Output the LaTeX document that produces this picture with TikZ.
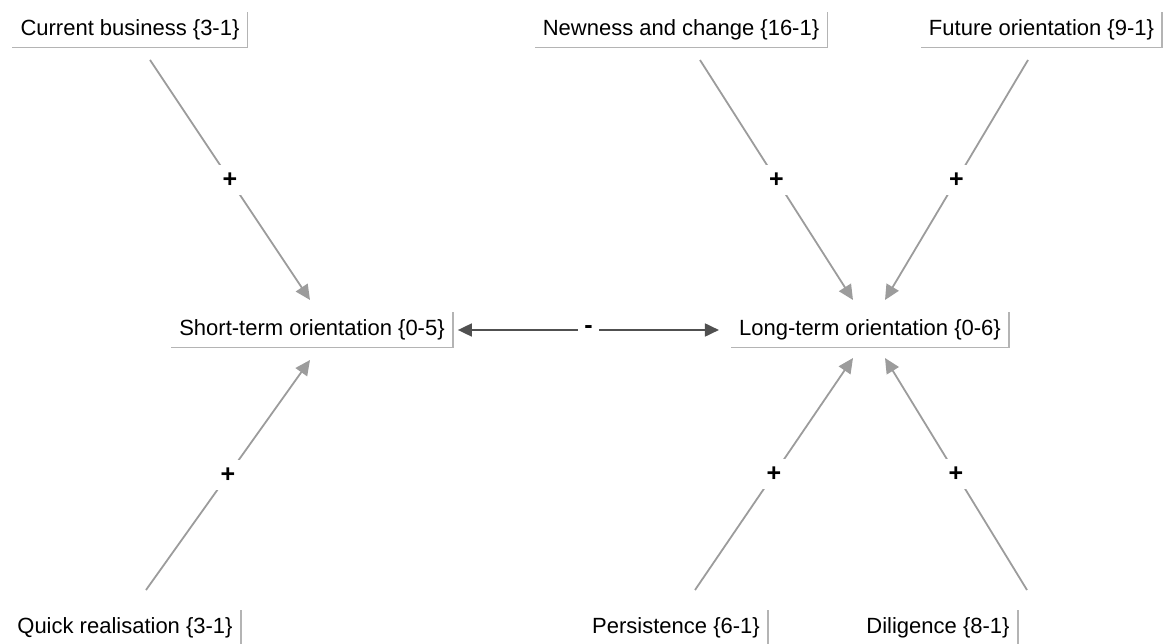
\documentclass[tikz,border=0pt]{standalone}
\usepackage{fontspec}
\setmainfont{Liberation Sans}
\usetikzlibrary{arrows.meta,calc}
\definecolor{linkgray}{HTML}{9C9C9C}
\definecolor{rimgray}{HTML}{B4B4B4}
\definecolor{bidark}{HTML}{505050}
\tikzset{
  concept/.style={inner xsep=8pt, minimum height=35pt, font=\fontsize{22}{26}\selectfont},
  rim/.style={draw=rimgray, line width=1.6pt},
  link/.style={draw=linkgray, line width=1.8pt,
    -{Triangle[length=15pt,width=14pt,fill=linkgray]}},
  bilink/.style={draw=bidark, line width=1.8pt,
    {Triangle[length=14pt,width=13pt]}-{Triangle[length=14pt,width=13pt]}},
  sign/.style={fill=white, inner sep=8pt, font=\fontsize{25}{28}\selectfont\bfseries},
  minus/.style={fill=white, inner xsep=6pt, inner ysep=4pt, font=\fontsize{25}{28}\selectfont\bfseries},
}
\begin{document}
\begin{tikzpicture}[x=1pt,y=-1pt]
\useasboundingbox (0,0) rectangle (1163,644);

% concepts
\node[concept] (cb) at (130,30)   {Current business \{3-1\}};
\node[concept] (nc) at (681,30)   {Newness and change \{16-1\}};
\node[concept] (fo) at (1041.5,30){Future orientation \{9-1\}};
\node[concept] (st) at (312,330)  {Short-term orientation \{0-5\}};
\node[concept] (lt) at (870,330)  {Long-term orientation \{0-6\}};
\node[concept] (qr) at (125,628)  {Quick realisation \{3-1\}};
\node[concept] (pe) at (676,628)  {Persistence \{6-1\}};
\node[concept] (di) at (938,628)  {Diligence \{8-1\}};

% right and bottom edges of each concept box
\foreach \n in {cb,nc,fo,st,lt,qr,pe,di}
  \draw[rim] (\n.north east) -- (\n.south east) -- (\n.south west);

% positive links
\draw[link] ($(cb.center)+(20,30)$)   -- node[sign]{+} ($(st.center)+(-2,-30)$);
\draw[link] ($(qr.center)+(21,-38)$)  -- node[sign]{+} ($(st.center)+(-2,30)$);
\draw[link] ($(nc.center)+(19,30)$)   -- node[sign]{+} ($(lt.center)+(-17,-30)$);
\draw[link] ($(fo.center)+(-13.5,30)$)-- node[sign]{+} ($(lt.center)+(15,-30)$);
\draw[link] ($(pe.center)+(19,-38)$)  -- node[sign]{+} ($(lt.center)+(-17,28)$);
\draw[link] ($(di.center)+(89,-38)$)  -- node[sign]{+} ($(lt.center)+(15,28)$);

% negative two-way link
\draw[bilink] ($(st.east)+(5,0)$) -- node[minus]{-} ($(lt.west)+(-12,0)$);
\end{tikzpicture}
\end{document}
